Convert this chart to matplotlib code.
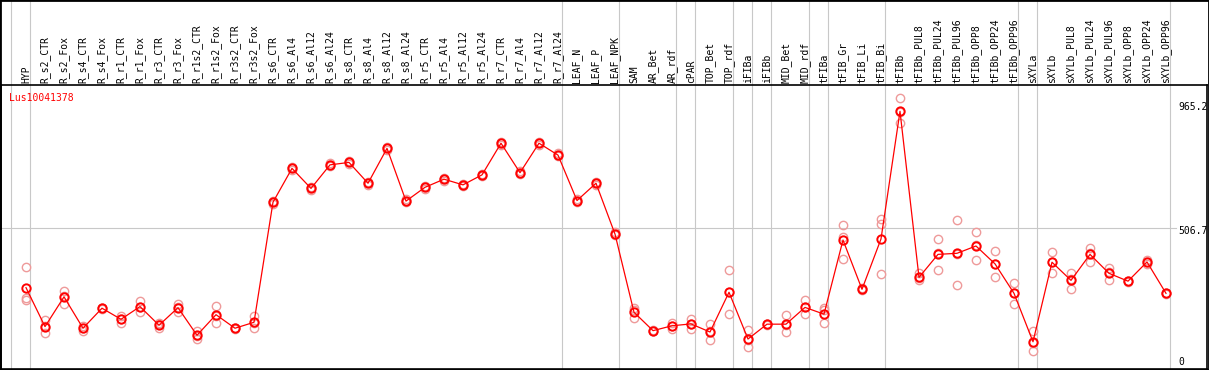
import matplotlib.pyplot as plt
import matplotlib.transforms as mtransforms
from matplotlib.patches import Rectangle
import numpy as np

plt.rcParams["font.family"] = "DejaVu Sans Mono"

C_LINE = "#ff0000"
C_REP = "#ee9a9a"
C_GRID = "#c8c8c8"

gene = "Lus10041378"

samples = [
    "HYP", "R_s2_CTR", "R_s2_Fox", "R_s4_CTR", "R_s4_Fox", "R_r1_CTR", "R_r1_Fox",
    "R_r3_CTR", "R_r3_Fox", "R_r1s2_CTR", "R_r1s2_Fox", "R_r3s2_CTR", "R_r3s2_Fox",
    "R_s6_CTR", "R_s6_Al4", "R_s6_Al12", "R_s6_Al24", "R_s8_CTR", "R_s8_Al4",
    "R_s8_Al12", "R_s8_Al24", "R_r5_CTR", "R_r5_Al4", "R_r5_Al12", "R_r5_Al24",
    "R_r7_CTR", "R_r7_Al4", "R_r7_Al12", "R_r7_Al24", "LEAF_N", "LEAF_P", "LEAF_NPK",
    "SAM", "AR_Bet", "AR_rdf", "cPAR", "TOP_Bet", "TOP_rdf", "iFIBa", "iFIBb",
    "MID_Bet", "MID_rdf", "tFIBa", "tFIB_Gr", "tFIB_Li", "tFIB_Bi", "tFIBb",
    "tFIBb_PUL8", "tFIBb_PUL24", "tFIBb_PUL96", "tFIBb_OPP8", "tFIBb_OPP24",
    "tFIBb_OPP96", "sXYLa", "sXYLb", "sXYLb_PUL8", "sXYLb_PUL24", "sXYLb_PUL96",
    "sXYLb_OPP8", "sXYLb_OPP24", "sXYLb_OPP96",
]

mean = [
    288, 144, 254, 138, 212, 171, 218, 149, 214, 112, 188, 138, 160,
    604, 729, 655, 742, 751, 674, 803, 608, 659, 689, 668, 705,
    822, 713, 822, 778, 610, 674, 486,
    197, 129, 147, 154, 124, 271, 98, 153, 153, 215, 190, 464, 282, 468,
    940, 326, 411, 415, 442, 376, 267, 88, 382, 315, 411, 341, 312, 383, 267,
]
rep_hi = [
    364, 168, 276, 147, 214, 183, 239, 153, 228, 129, 220, 140, 183,
    610, 735, 661, 747, 757, 679, 809, 614, 665, 694, 673, 710,
    828, 719, 827, 784, 615, 679, 492,
    212, 132, 158, 173, 153, 352, 132, 155, 186, 241, 212, 520, 285, 541,
    988, 341, 467, 537, 493, 422, 305, 127, 419, 341, 435, 361, 314, 390, 269,
]
rep_lo = [
    243, 119, 227, 129, 208, 156, 199, 138, 199, 97, 158, 135, 138,
    598, 724, 650, 736, 746, 668, 798, 603, 654, 683, 662, 699,
    816, 708, 816, 773, 604, 668, 481,
    175, 126, 135, 136, 93, 190, 68, 150, 123, 190, 156, 393, 279, 337,
    896, 316, 352, 297, 389, 327, 227, 53, 343, 284, 384, 316, 309, 376, 265,
]
rep_mid = [
    249, 145, 258, 137, 213, 173, 215, 156, 215, 110, 185, 138, 159,
    604, 729, 655, 742, 751, 674, 803, 608, 659, 689, 668, 705,
    822, 713, 822, 778, 610, 674, 486,
    205, 129, 148, 152, 126, 271, 96, 153, 149, 215, 205, 476, 282, 522,
    936, 322, 415, 411, 444, 377, 270, 85, 383, 320, 415, 346, 312, 383, 267,
]

# last sample index of each group (separator drawn just right of it)
group_ends = [-1, 0, 28, 31, 34, 35, 37, 38, 39, 41, 42, 45, 52, 53, 60]
scale_ticks = [965.2, 506.7, 0]
scale_labels = ["965.2", "506.7", "0"]

W, H = 1209, 370
fig = plt.figure(figsize=(W / 100, H / 100), dpi=100)
ax = fig.add_axes([1 / W, 1.5 / H, 1206 / W, 283.2 / H])

x = np.arange(len(samples))

# group separators run through the label area as well
trans = mtransforms.blended_transform_factory(ax.transData, fig.transFigure)
for g in group_ends:
    ax.plot([g + 0.2, g + 0.2], [0, 1], color=C_GRID, lw=0.8, transform=trans,
            clip_on=False, zorder=0)
ax.plot([-1.4, 60.55], [scale_ticks[1], scale_ticks[1]], color=C_GRID, lw=0.8, zorder=0)

for reps in (rep_hi, rep_lo, rep_mid):
    ax.plot(x, reps, ls="none", marker="o", ms=6, mfc="none", mec=C_REP, mew=1.0, zorder=2)
ax.plot(x, mean, color=C_LINE, lw=0.9, marker="o", ms=6, mfc="none", mec=C_LINE, mew=1.4,
        zorder=3)

ax.set_xlim(-1.316, 62.158)
ax.set_ylim(-10.9, 1036.1)

ax.xaxis.tick_top()
ax.set_xticks(x)
ax.set_xticklabels(samples, rotation=90, fontsize=7, va="bottom", ha="center")
ax.tick_params(axis="x", length=0, pad=1.5)
ax.set_yticks([])

offsets = [-3, -3, 4]
for v, s, dy in zip(scale_ticks, scale_labels, offsets):
    tr = mtransforms.offset_copy(ax.transData, fig=fig, y=dy, units="dots")
    ax.text(60.63, v, s, fontsize=7, ha="left", va="center", transform=tr)

ax.text(0.007, 0.955, gene, transform=ax.transAxes, color=C_LINE, fontsize=7,
        ha="left", va="center")

for sp in ax.spines.values():
    sp.set_linewidth(1.2)

fig.patches.append(Rectangle((0, 0), 1, 1, transform=fig.transFigure, fill=False,
                             edgecolor="black", lw=2.0))

plt.savefig("out.png", dpi=100)
plt.close()
